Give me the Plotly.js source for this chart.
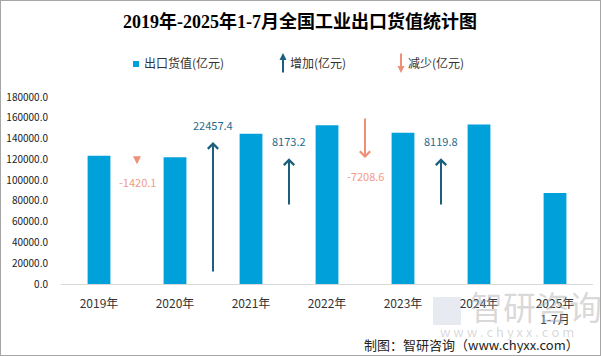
<!DOCTYPE html>
<html>
<head>
<meta charset="utf-8">
<script src="https://cdn.plot.ly/plotly-3.0.1.min.js"></script>
<style>
  html, body { margin: 0; padding: 0; background: #fff; }
  #wrap { position: relative; width: 601px; height: 356px; }
  #chart { width: 601px; height: 356px; }
  #frame { position: absolute; left: 0; top: 0; width: 599px; height: 354px; border: 1px solid #a6a6a6; pointer-events: none; }
</style>
</head>
<body>
<div id="wrap"><div id="chart"></div><div id="frame"></div></div>
<script>
// ---- data ----
const categories = ['2019年', '2020年', '2021年', '2022年', '2023年', '2024年', '2025年<br>1-7月'];
const exportValues = [123500, 122080, 144537, 152711, 145502, 153622, 87600];
const changeValues = [-1420.1, 22457.4, 8173.2, -7208.6, 8119.8];
const changeLabels = ['-1420.1', '22457.4', '8173.2', '-7208.6', '8119.8'];
const arrowFrom = [123200, 10600, 75100, 160700, 75100];
const arrowTo = [115300, 136600, 121000, 121300, 121000];
const yTickVals = [0, 20000, 40000, 60000, 80000, 100000, 120000, 140000, 160000, 180000];

// ---- layout helpers ----
const W = 601, H = 356;
const M = { l: 61, r: 8, t: 97, b: 72 };
const PW = W - M.l - M.r, PH = H - M.t - M.b;
const px2x = p => (p - M.l) / PW;
const py2y = p => (H - M.b - p) / PH;

const barColor = '#00a0da';
const upColor = '#1a5f7e';
const downColor = '#ef8f78';
const upText = '#1f6b8e';
const downText = '#f29a86';
const cjk = '"Noto Sans CJK SC", "Noto Sans", sans-serif';

const annotations = [];
const shapes = [];

changeValues.forEach((v, i) => {
  const up = v > 0;
  const small = Math.abs(v) < 2000;
  annotations.push({
    x: i + 0.5, y: arrowTo[i], xref: 'x', yref: 'y',
    ax: i + 0.5, ay: arrowFrom[i], axref: 'x', ayref: 'y',
    text: '', showarrow: true,
    arrowhead: small ? 2 : 4, arrowsize: small ? 0.8 : 1, arrowwidth: 2,
    arrowcolor: up ? upColor : downColor
  });
  annotations.push({
    x: i + 0.5, y: arrowTo[i], xref: 'x', yref: 'y',
    text: changeLabels[i], showarrow: false,
    yshift: up ? 17 : -18,
    font: { family: cjk, size: 11, color: up ? upText : downText }
  });
});

// legend
shapes.push({ type: 'rect', xref: 'paper', yref: 'paper',
  x0: px2x(133), x1: px2x(139), y0: py2y(67), y1: py2y(61),
  fillcolor: barColor, line: { width: 0 } });
annotations.push({ xref: 'paper', yref: 'paper', x: px2x(142), y: py2y(63), xanchor: 'left', yanchor: 'middle',
  text: '出口货值(亿元)', showarrow: false, font: { family: cjk, size: 12, color: '#333' } });
annotations.push({ xref: 'paper', yref: 'paper', x: px2x(283), y: py2y(53), ax: 0, ay: 21,
  text: '', showarrow: true, arrowhead: 2, arrowsize: 0.7, arrowwidth: 2, arrowcolor: upColor });
annotations.push({ xref: 'paper', yref: 'paper', x: px2x(288), y: py2y(63), xanchor: 'left', yanchor: 'middle',
  text: '增加(亿元)', showarrow: false, font: { family: cjk, size: 12, color: '#333' } });
annotations.push({ xref: 'paper', yref: 'paper', x: px2x(401), y: py2y(73), ax: 0, ay: -21,
  text: '', showarrow: true, arrowhead: 2, arrowsize: 0.7, arrowwidth: 2, arrowcolor: downColor });
annotations.push({ xref: 'paper', yref: 'paper', x: px2x(406), y: py2y(63), xanchor: 'left', yanchor: 'middle',
  text: '减少(亿元)', showarrow: false, font: { family: cjk, size: 12, color: '#333' } });

// watermark
annotations.push({ xref: 'paper', yref: 'paper', x: px2x(536), y: py2y(306), xanchor: 'center', yanchor: 'middle',
  text: '智研咨询', showarrow: false, font: { family: cjk, size: 33, color: 'rgba(170,170,170,0.45)' } });
annotations.push({ xref: 'paper', yref: 'paper', x: px2x(507), y: py2y(331), xanchor: 'center', yanchor: 'middle',
  text: 'w w w . c h y x x . c o m', showarrow: false, font: { family: cjk, size: 13, color: 'rgba(170,170,170,0.45)' } });
shapes.push({ type: 'rect', xref: 'paper', yref: 'paper',
  x0: px2x(433), x1: px2x(461), y0: py2y(325), y1: py2y(297),
  fillcolor: 'rgba(160,175,200,0.25)', line: { width: 0 } });

// footer
annotations.push({ xref: 'paper', yref: 'paper', x: px2x(581), y: py2y(344), xanchor: 'right', yanchor: 'middle',
  text: '制图：智研咨询（www.chyxx.com）', showarrow: false, font: { family: cjk, size: 13, color: '#222' } });

const data = [{
  type: 'bar', x: categories, y: exportValues,
  marker: { color: barColor }, hoverinfo: 'skip'
}];

const layout = {
  width: W, height: H,
  margin: M,
  paper_bgcolor: '#fff', plot_bgcolor: '#fff',
  showlegend: false,
  bargap: 0.7,
  title: {
    text: '2019年-2025年1-7月全国工业出口货值统计图',
    xref: 'container', yref: 'container', x: 300 / W, y: 1 - 22 / H,
    xanchor: 'center', yanchor: 'middle',
    font: { family: '"Liberation Serif", "Noto Sans CJK SC", serif', size: 18, color: '#000', weight: 'bold' }
  },
  xaxis: {
    type: 'category', range: [-0.5, 6.5],
    showline: true, linecolor: '#d9d9d9', linewidth: 1,
    ticks: '', showgrid: false, zeroline: false,
    ticklabelstandoff: 9,
    tickfont: { family: cjk, size: 12, color: '#333' }
  },
  yaxis: {
    range: [0, 180000], tickvals: yTickVals, tickformat: '.1f',
    showgrid: false, zeroline: false, showline: false, ticks: '',
    ticklabelstandoff: 12,
    tickfont: { family: cjk, size: 10, color: '#222' }
  },
  annotations: annotations,
  shapes: shapes
};

Plotly.newPlot('chart', data, layout, { displayModeBar: false, staticPlot: true });
</script>
</body>
</html>
